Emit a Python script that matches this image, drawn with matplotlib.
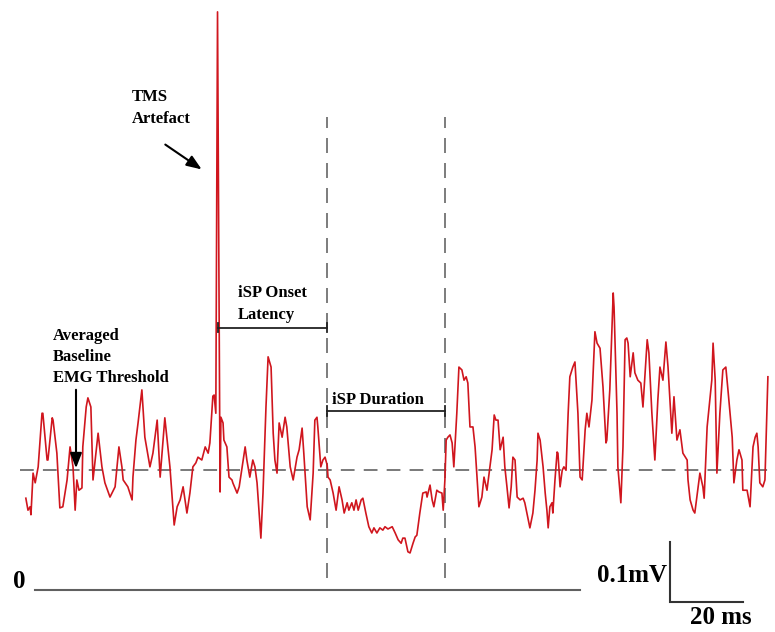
import matplotlib
matplotlib.use("Agg")
import matplotlib.pyplot as plt

# ---- EMG trace (time in ms, amplitude in microvolts) ----
t_ms = [
    0.2, 0.7, 1.2, 1.4, 1.9, 2.4, 3.1, 4.0, 4.2, 5.2,
    5.4, 6.4, 6.6, 7.5, 8.2, 8.9, 9.9, 10.6, 11.3, 11.8,
    12.2, 12.7, 13.4, 13.6, 14.4, 14.8, 15.5, 16.0, 16.7, 17.2,
    18.1, 18.8, 20.0, 21.2, 22.1, 22.8, 23.1, 24.2, 25.2, 25.4,
    26.1, 26.6, 27.5, 28.2, 29.4, 30.1, 31.1, 31.8, 32.9, 34.1,
    35.1, 35.8, 36.5, 37.2, 38.1, 38.8, 39.5, 40.2, 40.7, 41.6,
    42.4, 43.1, 43.5, 44.2, 44.5, 44.9, 45.3, 45.9, 46.1, 46.6,
    46.8, 47.5, 48.0, 48.7, 48.9, 49.9, 50.4, 51.1, 51.8, 52.2,
    52.9, 53.6, 54.1, 54.6, 55.5, 56.0, 56.7, 57.2, 57.9, 58.4,
    58.8, 59.3, 59.8, 60.5, 61.2, 61.6, 62.4, 63.1, 64.0, 64.5,
    65.2, 65.6, 66.4, 67.1, 67.8, 68.2, 68.7, 68.9, 69.6, 70.1,
    70.6, 71.1, 71.3, 71.8, 72.5, 73.2, 73.9, 74.6, 75.1, 75.8,
    76.2, 76.9, 77.4, 77.9, 78.4, 79.1, 79.5, 80.2, 80.9, 81.6,
    82.1, 82.8, 83.5, 84.2, 84.7, 85.4, 86.4, 87.1, 87.8, 88.5,
    88.9, 89.4, 90.1, 90.6, 91.3, 91.8, 92.2, 92.9, 93.6, 94.4,
    94.6, 95.3, 95.8, 96.2, 96.9, 97.4, 98.1, 98.4, 98.8, 99.1,
    99.5, 100.0, 100.5, 100.9, 101.6, 102.1, 102.8, 103.3, 103.8, 104.2,
    104.7, 105.4, 105.9, 106.4, 106.8, 107.5, 108.0, 108.7, 109.2, 109.9,
    110.4, 110.8, 111.3, 111.8, 112.5, 112.9, 113.4, 113.9, 114.4, 114.8,
    115.3, 115.8, 116.5, 117.2, 117.6, 118.1, 118.8, 119.5, 120.0, 120.5,
    120.7, 121.2, 121.9, 122.4, 122.8, 123.1, 123.5, 124.0, 124.2, 124.7,
    125.2, 125.4, 125.9, 126.4, 126.8, 127.3, 127.8, 128.2, 128.9, 129.4,
    130.1, 130.6, 131.1, 131.8, 132.2, 132.7, 133.4, 134.1, 134.6, 135.3,
    136.0, 136.7, 136.9, 137.6, 138.4, 138.6, 139.3, 139.5, 140.2, 140.7,
    141.2, 141.6, 141.9, 142.4, 143.1, 143.5, 144.2, 144.9, 145.4, 146.4,
    146.8, 147.5, 148.2, 148.9, 149.4, 150.1, 150.8, 151.3, 152.2, 152.7,
    153.4, 154.1, 154.8, 155.8, 156.0, 156.5, 157.2, 157.6, 158.4, 158.8,
    159.5, 159.8, 160.5, 160.9, 161.6, 161.9, 162.4, 162.8, 163.5, 164.2,
    164.9, 165.4, 166.4, 166.8, 167.5, 168.0, 168.7, 168.9, 169.9, 170.6,
    171.3, 171.8, 172.2, 172.5, 172.9, 173.6, 174.1, 174.8,
]
emg_uv = [
    161, 140, 146, 132, 205, 188, 216, 310, 310, 228,
    228, 302, 298, 240, 144, 146, 193, 251, 216, 140,
    193, 175, 179, 251, 321, 337, 321, 193, 240, 275,
    216, 188, 163, 181, 251, 216, 193, 181, 158, 198,
    263, 293, 351, 268, 216, 240, 298, 198, 302, 216,
    114, 146, 158, 181, 135, 170, 216, 223, 233, 228,
    251, 240, 258, 340, 342, 310, 1014, 172, 303, 293,
    263, 251, 198, 193, 188, 170, 181, 216, 251, 228,
    198, 228, 216, 188, 91, 170, 321, 409, 391, 275,
    228, 205, 293, 268, 303, 286, 216, 193, 233, 246,
    284, 240, 146, 123, 205, 298, 303, 286, 216, 228,
    233, 219, 198, 193, 170, 140, 181, 158, 135, 153,
    140, 153, 140, 158, 140, 158, 161, 135, 111, 100,
    109, 100, 109, 105, 111, 107, 111, 100, 88, 82,
    91, 91, 67, 65, 82, 93, 96, 135, 170, 172,
    163, 184, 158, 146, 175, 172, 170, 140, 193, 263,
    268, 272, 258, 216, 310, 391, 386, 368, 374, 363,
    286, 286, 251, 193, 146, 163, 198, 175, 205, 246,
    307, 298, 298, 246, 268, 216, 181, 144, 181, 233,
    228, 163, 158, 161, 153, 135, 109, 135, 175, 228,
    275, 263, 216, 170, 140, 109, 146, 153, 135, 193,
    242, 240, 181, 210, 216, 210, 310, 374, 391, 400,
    310, 198, 193, 281, 310, 286, 333, 453, 433, 424,
    356, 258, 263, 351, 521, 496, 310, 216, 153, 251,
    439, 442, 433, 374, 416, 381, 368, 363, 321, 439,
    416, 310, 228, 333, 391, 368, 435, 391, 275, 339,
    263, 281, 240, 228, 193, 158, 140, 135, 181, 205,
    181, 161, 286, 316, 368, 433, 368, 205, 310, 386,
    391, 351, 268, 188, 228, 246, 228, 175, 175, 146,
    251, 268, 275, 251, 188, 181, 193, 374,
]

# ---- events / reference levels ----
threshold_uv = 210          # averaged baseline EMG threshold
tms_ms = 45.4               # TMS artefact
isp_onset_ms = 71.1         # iSP onset
isp_offset_ms = 98.8        # iSP end
latency_level_uv = 460
duration_level_uv = 314
trace_start_ms, trace_end_ms = -1.2, 174.8
zero_start_ms, zero_end_ms = 2.4, 130.6

# scale bar (plot units)
scale_origin = (151.8, -21)
scale_len_ms = 17.2
scale_len_uv = 105

W, H = 775, 632
fig = plt.figure(figsize=(W / 100, H / 100), dpi=100)
ax = fig.add_axes([0, 0, 1, 1])
ax.set_xlim(-25 / 4.25, 750 / 4.25)
ax.set_ylim((590 - 632) * 1.754, 590 * 1.754)
ax.axis("off")

serif = ["Liberation Serif", "DejaVu Serif"]
red = "#d0161e"
grey = "#555555"

def fx(px):
    return px / W

def fy(py):
    return 1 - py / H

# threshold dashed line
ax.plot([trace_start_ms, trace_end_ms], [threshold_uv, threshold_uv],
        color=grey, lw=1.1, dashes=(9, 6), zorder=1)

# iSP vertical dashed lines
for tv in (isp_onset_ms, isp_offset_ms):
    ax.plot([tv, tv], [21, 830], color="#666666", lw=1.2, dashes=(9, 6), zorder=1)

# EMG trace
ax.plot(t_ms, emg_uv, color=red, lw=1.2, zorder=3, solid_joinstyle="round")

# zero line
ax.plot([zero_start_ms, zero_end_ms], [0, 0], color="#606060", lw=1.5)

# brackets
tick = 8
for (a, b, lev) in ((tms_ms, isp_onset_ms, latency_level_uv),
                    (isp_onset_ms, isp_offset_ms, duration_level_uv)):
    ax.plot([a, b], [lev, lev], color="#222222", lw=1.3, zorder=4)
    ax.plot([a, a], [lev - tick, lev + tick], color="#222222", lw=1.3, zorder=4)
    ax.plot([b, b], [lev - tick, lev + tick], color="#222222", lw=1.3, zorder=4)

# scale bar
x0, y0 = scale_origin
ax.plot([x0, x0, x0 + scale_len_ms], [y0 + scale_len_uv, y0, y0],
        color="#333333", lw=1.5, solid_joinstyle="miter")

tkw = dict(transform=ax.transAxes, family=serif, fontweight="bold", color="black")

ax.text(fx(19), fy(581), "0", ha="center", va="center", fontsize=18, **tkw)
ax.text(fx(667), fy(575), "0.1mV", ha="right", va="center", fontsize=18, **tkw)
ax.text(fx(721), fy(618), "20 ms", ha="center", va="center", fontsize=18, **tkw)

ax.text(fx(132), fy(108), "TMS\nArtefact", ha="left", va="center",
        fontsize=12, linespacing=1.45, **tkw)
ax.text(fx(238), fy(304), "iSP Onset\nLatency", ha="left", va="center",
        fontsize=12, linespacing=1.45, **tkw)
ax.text(fx(332), fy(400), "iSP Duration", ha="left", va="center",
        fontsize=12, **tkw)
ax.text(fx(53), fy(357), "Averaged\nBaseline\nEMG Threshold", ha="left",
        va="center", fontsize=12, linespacing=1.45, **tkw)

akw = dict(arrowstyle="-|>,head_length=0.9,head_width=0.35", color="black", lw=1.5)
ax.annotate("", xy=(fx(204), fy(171)), xytext=(fx(163), fy(143)),
            xycoords="axes fraction", textcoords="axes fraction", arrowprops=akw)
ax.annotate("", xy=(fx(76), fy(471)), xytext=(fx(76), fy(387)),
            xycoords="axes fraction", textcoords="axes fraction", arrowprops=akw)

fig.savefig("out.png", dpi=100, facecolor="white")
